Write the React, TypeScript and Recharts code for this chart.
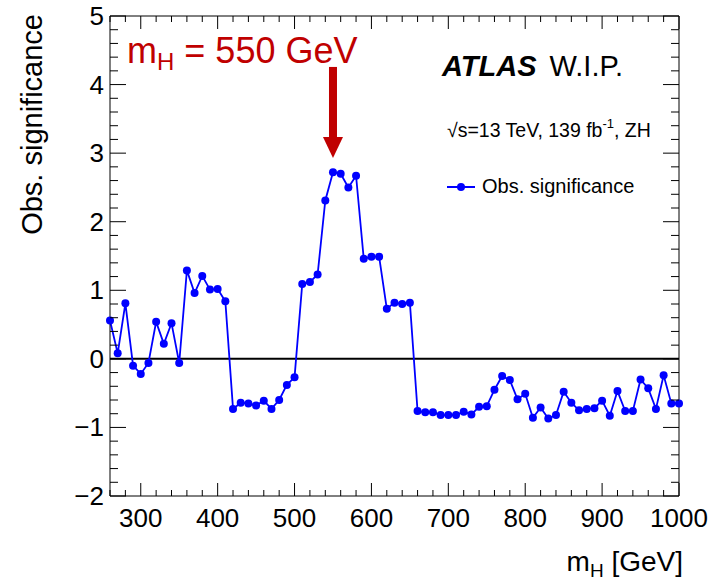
import { LineChart, Line, XAxis, YAxis, ReferenceLine, ReferenceDot } from "recharts";

const FONT = "'Liberation Sans', Arial, Helvetica, sans-serif";
const RED = "#c00000";
const BLUE = "#0000ff";

// m_H scan points [GeV]
const masses = [
  260, 270, 280, 290, 300, 310, 320, 330, 340, 350, 360, 370, 380, 390, 400, 410,
  420, 430, 440, 450, 460, 470, 480, 490, 500, 510, 520, 530, 540, 550, 560, 570,
  580, 590, 600, 610, 620, 630, 640, 650, 660, 670, 680, 690, 700, 710, 720, 730,
  740, 750, 760, 770, 780, 790, 800, 810, 820, 830, 840, 850, 860, 870, 880, 890,
  900, 910, 920, 930, 940, 950, 960, 970, 980, 990, 1000,
];

const significance = [
  0.56, 0.08, 0.81, -0.1, -0.22, -0.06, 0.54, 0.22, 0.52, -0.06, 1.29, 0.96, 1.21, 1.01, 1.02, 0.84,
  -0.73, -0.64, -0.65, -0.68, -0.61, -0.73, -0.6, -0.38, -0.27, 1.09, 1.12, 1.23, 2.31, 2.72, 2.7, 2.5,
  2.67, 1.46, 1.49, 1.49, 0.73, 0.82, 0.8, 0.82, -0.76, -0.78, -0.78, -0.82, -0.82, -0.82, -0.77, -0.81,
  -0.7, -0.69, -0.45, -0.25, -0.31, -0.59, -0.51, -0.86, -0.71, -0.87, -0.82, -0.48, -0.64, -0.75, -0.73, -0.72,
  -0.61, -0.83, -0.47, -0.76, -0.76, -0.3, -0.43, -0.73, -0.24, -0.65, -0.65,
];

// ROOT style ticks: majors get a label, minors are just short marks
const xTicks = [
  260, 280, 300, 320, 340, 360, 380, 400, 420, 440, 460, 480, 500, 520, 540, 560, 580, 600, 620,
  640, 660, 680, 700, 720, 740, 760, 780, 800, 820, 840, 860, 880, 900, 920, 940, 960, 980, 1000,
];
const xLabels = [300, 400, 500, 600, 700, 800, 900, 1000];

const yTicks = [
  -2, -1.8, -1.6, -1.4, -1.2, -1, -0.8, -0.6, -0.4, -0.2, 0, 0.2, 0.4, 0.6, 0.8, 1, 1.2, 1.4, 1.6, 1.8,
  2, 2.2, 2.4, 2.6, 2.8, 3, 3.2, 3.4, 3.6, 3.8, 4, 4.2, 4.4, 4.6, 4.8, 5,
];
const yLabels = [-2, -1, 0, 1, 2, 3, 4, 5];

const signalMass = 550;
const arrowTip = 2.93;

const data = masses.map((m, i) => ({ m, sig: significance[i] }));

const isXMajor = (v: number) => xLabels.includes(v);
const isYMajor = (v: number) => yLabels.some((l) => Math.abs(l - v) < 1e-6);
const fmt = (v: number) => (v < 0 ? "\u2212" + Math.abs(v) : String(v));

const BottomTick = ({ x, y, payload }: any) => {
  const major = isXMajor(payload.value);
  return (
    <g>
      <line x1={x} x2={x} y1={y} y2={y - (major ? 13 : 6)} stroke="#000" />
      {major && (
        <text x={x} y={y + 31} textAnchor="middle" fontSize={26} fontFamily={FONT} fill="#000">
          {payload.value}
        </text>
      )}
    </g>
  );
};

const TopTick = ({ x, y, payload }: any) => {
  const major = isXMajor(payload.value);
  return <line x1={x} x2={x} y1={y} y2={y + (major ? 13 : 6)} stroke="#000" />;
};

const LeftTick = ({ x, y, payload }: any) => {
  const major = isYMajor(payload.value);
  return (
    <g>
      <line x1={x} x2={x + (major ? 16 : 8)} y1={y} y2={y} stroke="#000" />
      {major && (
        <text x={x - 6} y={y + 9} textAnchor="end" fontSize={26} fontFamily={FONT} fill="#000">
          {fmt(Math.round(payload.value))}
        </text>
      )}
    </g>
  );
};

const RightTick = ({ x, y, payload }: any) => {
  const major = isYMajor(payload.value);
  return <line x1={x} x2={x - (major ? 16 : 8)} y1={y} y2={y} stroke="#000" />;
};

const Arrow = ({ cx, cy }: any) => (
  <g>
    <rect x={cx - 4} y={cy - 91} width={8} height={72} fill={RED} />
    <polygon points={`${cx - 10},${cy - 21} ${cx + 10},${cy - 21} ${cx},${cy}`} fill={RED} />
  </g>
);

export default function App() {
  return (
    <div style={{ position: "absolute", left: 0, top: 0, width: 715, height: 580, background: "#fff" }}>
      <LineChart
        width={715}
        height={580}
        data={data}
        margin={{ top: 15, right: 35, bottom: 83, left: 109 }}
      >
        <XAxis
          dataKey="m"
          type="number"
          domain={[260, 1000]}
          ticks={xTicks}
          interval={0}
          height={1}
          tickSize={0}
          tickMargin={0}
          tickLine={false}
          tick={<BottomTick />}
          axisLine={{ stroke: "#000" }}
        />
        <XAxis
          xAxisId="top"
          orientation="top"
          dataKey="m"
          type="number"
          domain={[260, 1000]}
          allowDataOverflow
          ticks={xTicks}
          interval={0}
          height={1}
          tickSize={0}
          tickMargin={0}
          tickLine={false}
          tick={<TopTick />}
          axisLine={{ stroke: "#000" }}
        />
        <YAxis
          type="number"
          domain={[-2, 5]}
          ticks={yTicks}
          interval={0}
          width={1}
          tickSize={0}
          tickMargin={0}
          tickLine={false}
          tick={<LeftTick />}
          axisLine={{ stroke: "#000" }}
        />
        <YAxis
          yAxisId="right"
          orientation="right"
          type="number"
          domain={[-2, 5]}
          allowDataOverflow
          ticks={yTicks}
          interval={0}
          width={1}
          tickSize={0}
          tickMargin={0}
          tickLine={false}
          tick={<RightTick />}
          axisLine={{ stroke: "#000" }}
        />
        <ReferenceLine y={0} stroke="#000" strokeWidth={2} />
        <Line
          dataKey="sig"
          name="Obs. significance"
          stroke={BLUE}
          strokeWidth={1.8}
          dot={{ r: 4, fill: BLUE, stroke: BLUE, strokeWidth: 0 }}
          isAnimationActive={false}
        />
        <ReferenceDot x={signalMass} y={arrowTip} shape={<Arrow />} />
      </LineChart>
      <svg
        width={715}
        height={580}
        style={{ position: "absolute", left: 0, top: 0, pointerEvents: "none" }}
        fontFamily={FONT}
      >
        <text transform="translate(42,14) rotate(-90)" textAnchor="end" fontSize={29} fill="#000">
          Obs. significance
        </text>
        <text x={683} y={571} textAnchor="end" fontSize={28} fill="#000">
          m<tspan fontSize={19} dy={6}>H</tspan>
          <tspan dy={-6}> [GeV]</tspan>
        </text>
        <text x={127} y={63} fontSize={36} fill={RED}>
          m<tspan fontSize={24} dy={7}>H</tspan>
          <tspan dy={-7}> = 550 GeV</tspan>
        </text>
        <text x={442} y={76} fontSize={29} fill="#000">
          <tspan fontWeight="bold" fontStyle="italic">ATLAS</tspan>
          <tspan dx={13}>W.I.P.</tspan>
        </text>
        <text x={447} y={137} fontSize={19.5} fill="#000">
          {"\u221As=13 TeV, 139 fb"}
          <tspan fontSize={13} dy={-9}>-1</tspan>
          <tspan dy={9}>, ZH</tspan>
        </text>
        {/* legend */}
        <line x1={447} x2={475} y1={187} y2={187} stroke={BLUE} strokeWidth={2} />
        <circle cx={461} cy={187} r={4} fill={BLUE} />
        <text x={482} y={193} fontSize={20} fill="#000">
          Obs. significance
        </text>
      </svg>
    </div>
  );
}
